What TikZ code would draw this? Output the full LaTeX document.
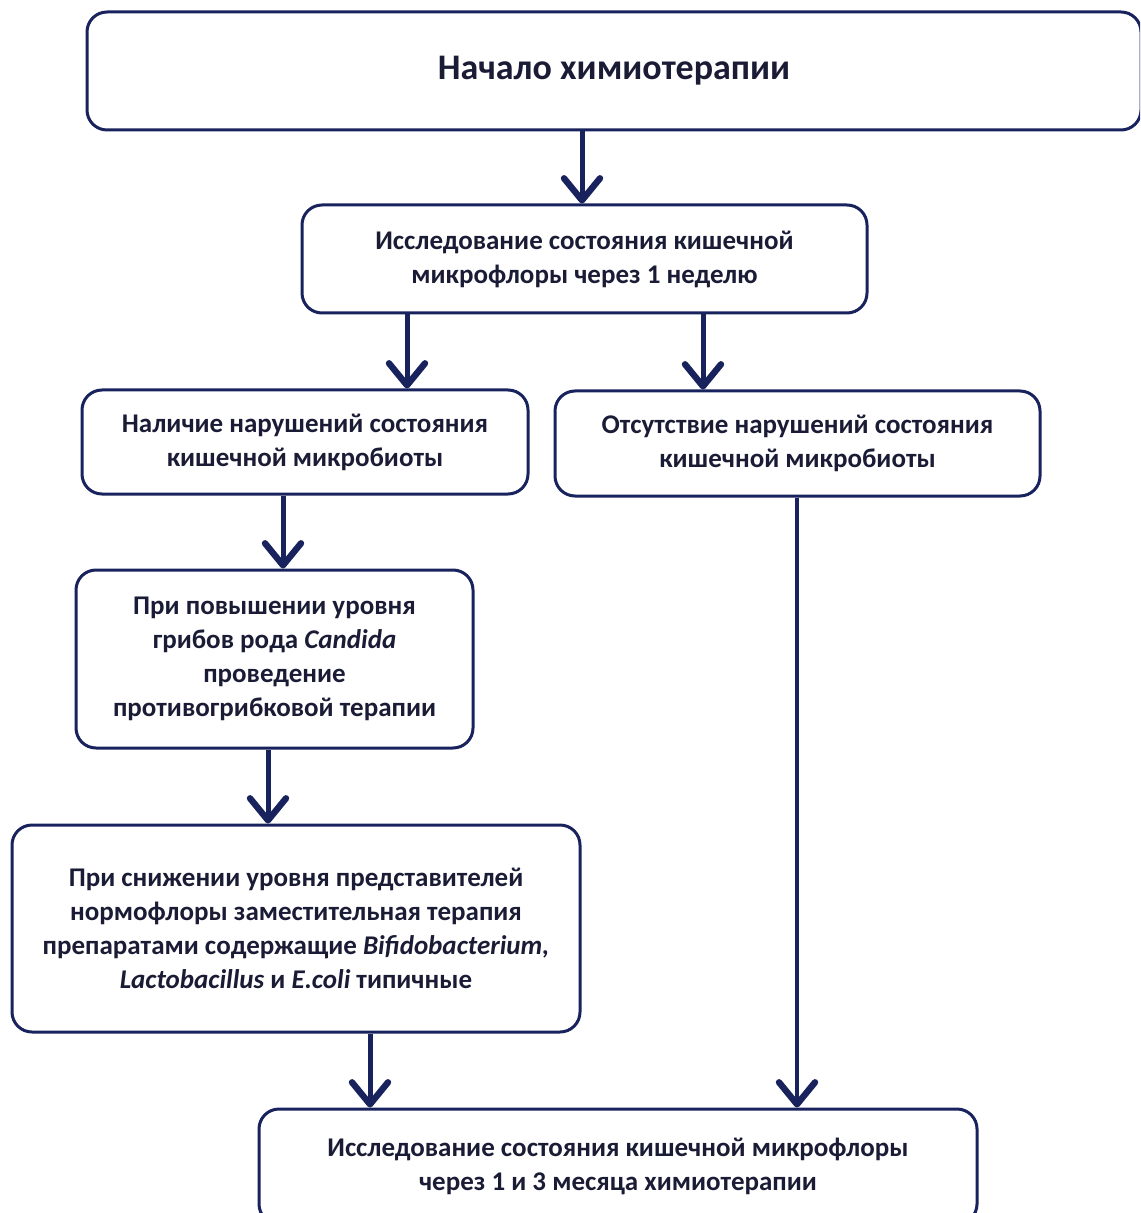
\documentclass[tikz,border=0pt]{standalone}
\usepackage{fontspec}
\setmainfont{Carlito}
\usepackage{xcolor}
\usepackage{tikz}
\usetikzlibrary{arrows.meta, positioning, calc}
\definecolor{navy}{RGB}{24,34,92}
\definecolor{ink}{RGB}{26,28,54}

\begin{document}
\begin{tikzpicture}[
  x=0.5pt, y=-0.5pt,
  box/.style={rectangle, draw=navy, line width=1.5pt, rounded corners=10pt, inner sep=0pt, align=center, text=ink, font=\fontsize{13.5}{17}\selectfont\bfseries},
  arr/.style={draw=navy, line width=2.5pt, -{Straight Barb[length=11pt, width=18pt, round, line width=3.2pt]}}
]
  \useasboundingbox (0,0) rectangle (1140,1213);
  \clip (0,0) rectangle (1140,1213);

  \node[box, minimum width=527pt, minimum height=59pt, font=\fontsize{18}{22}\selectfont\bfseries] (start) at (614,71) {Начало химиотерапии};
  \node[box, minimum width=282.5pt, minimum height=54pt] (week) at (584.5,259) {Исследование состояния кишечной\\микрофлоры через 1 неделю};
  \node[box, minimum width=223pt, minimum height=52pt] (yes) at (305,442) {Наличие нарушений состояния\\кишечной микробиоты};
  \node[box, minimum width=242.5pt, minimum height=52.5pt] (no) at (797.5,443.5) {Отсутствие нарушений состояния\\кишечной микробиоты};
  \node[box, minimum width=198.5pt, minimum height=89pt] (candida) at (274.5,659) {При повышении уровня\\грибов рода \textit{Candida}\\проведение\\противогрибковой терапии};
  \node[box, minimum width=284pt, minimum height=103.5pt] (flora) at (296,928.5) {При снижении уровня представителей\\нормофлоры заместительная терапия\\препаратами содержащие \textit{Bifidobacterium,}\\\textit{Lactobacillus} и \textit{E.coli} типичные};
  \node[box, minimum width=359pt, minimum height=57.5pt] (final) at (618,1166.5) {Исследование состояния кишечной микрофлоры\\через 1 и 3 месяца химиотерапии};

  \coordinate (c1) at (582,0);
  \coordinate (c2) at (407,0);
  \coordinate (c3) at (703,0);
  \coordinate (c4) at (283,0);
  \coordinate (c5) at (268,0);
  \coordinate (c6) at (370,0);
  \coordinate (c7) at (797,0);

  \draw[arr] (start.south -| c1) -- (week.north -| c1);
  \draw[arr] (week.south -| c2) -- (yes.north -| c2);
  \draw[arr] (week.south -| c3) -- (no.north -| c3);
  \draw[arr] (yes.south -| c4) -- (candida.north -| c4);
  \draw[arr] (candida.south -| c5) -- (flora.north -| c5);
  \draw[arr] (flora.south -| c6) -- (final.north -| c6);
  \draw[arr, line width=2pt] (no.south -| c7) -- (final.north -| c7);
\end{tikzpicture}
\end{document}
